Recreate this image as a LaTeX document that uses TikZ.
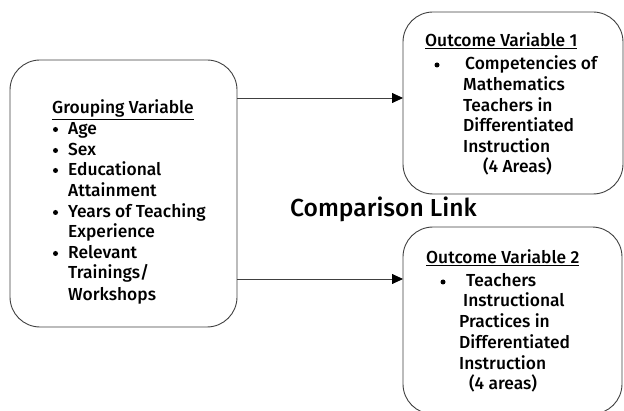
\documentclass[tikz,border=0pt]{standalone}
\usepackage{fontspec}
\setmainfont{Fira Sans}[UprightFont=* Medium]
\usetikzlibrary{arrows.meta}
\begin{document}
\begin{tikzpicture}[x=1pt,y=1pt,
  box/.style={draw=black!75,line width=0.9pt,rounded corners=30pt,fill=white},
  link/.style={draw=black!75,line width=0.8pt,-{Triangle[length=11pt,width=10pt,color=black]}},
  txt/.style={anchor=base west,inner sep=0pt,font=\fontsize{17.4}{20}\selectfont},
  bul/.style={circle,fill=black,inner sep=0pt,minimum size=5pt}]
\useasboundingbox (0,0) rectangle (624,410);
% boxes
\draw[box] (10,83) rectangle (237,350);
\draw[box] (403,216) rectangle (623,398);
\draw[box] (403,-4) rectangle (622,183);
\coordinate (gL) at (237,312);
\coordinate (gR) at (237,131);
\coordinate (o1) at (403,312);
\coordinate (o2) at (403,131);
\draw[link] (gL) -- (o1);
\draw[link] (gR) -- (o2);
% grouping variable
\node[txt] (gt) at (52,296) {\underline{Grouping Variable}};
\node[txt] (g1) at (68,275) {Age};
\node[txt] (g2) at (68,254) {Sex};
\node[txt] (g3) at (68,234) {Educational};
\node[txt] (g3b) at (68,213) {Attainment};
\node[txt] (g4) at (68,192) {Years of Teaching};
\node[txt] (g4b) at (68,172) {Experience};
\node[txt] (g5) at (68,151) {Relevant};
\node[txt] (g5b) at (68,131) {Trainings/};
\node[txt] (g5c) at (68,110) {Workshops};
\foreach \n in {g1,g2,g3,g4,g5}
  \node[bul] at ([xshift=-12.5pt,yshift=5.5pt]\n.base west) {};
% outcome 1
\node[txt] (at) at (425,363) {\underline{Outcome Variable 1}};
\node[txt] (a1) at (465,340) {Competencies of};
\node[txt] (a2) at (463,319) {Mathematics};
\node[txt] (a3) at (463,298) {Teachers in};
\node[txt] (a4) at (463,278) {Differentiated};
\node[txt] (a5) at (463,257) {Instruction};
\node[txt] (a6) at (483,237) {(4 Areas)};
\node[bul] at (437,345) {};
% outcome 2
\node[txt] (bt) at (426,146) {\underline{Outcome Variable 2}};
\node[txt] (b1) at (466,123) {Teachers};
\node[txt] (b2) at (463,103) {Instructional};
\node[txt] (b3) at (459,82) {Practices in};
\node[txt] (b4) at (459,62) {Differentiated};
\node[txt] (b5) at (459,41) {Instruction};
\node[txt] (b6) at (469,21) {(4 areas)};
\node[bul] at (443,128) {};
% comparison label
\node[anchor=base west,inner sep=0pt,font=\fontsize{24.6}{28}\selectfont] (cl) at (290,193) {Comparison Link};
\end{tikzpicture}
\end{document}
